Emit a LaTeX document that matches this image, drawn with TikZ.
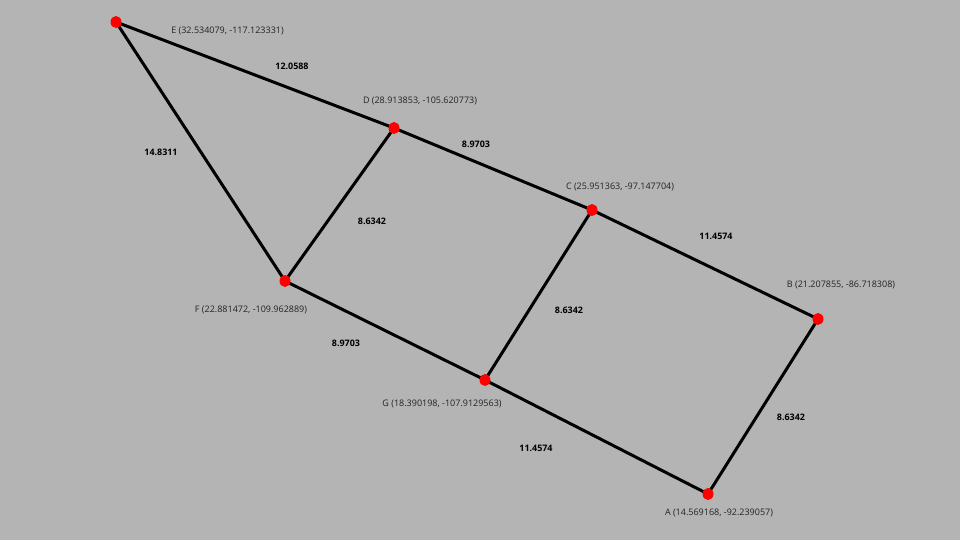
\documentclass[tikz,border=0pt]{standalone}
\usepackage{fontspec}
\setmainfont{Open Sans}
\usetikzlibrary{shapes.geometric}
\definecolor{bg}{RGB}{180,180,180}
\definecolor{txt}{RGB}{35,35,35}
\begin{document}
\begin{tikzpicture}[x=0.75pt,y=-0.75pt,
  pt/.style={ellipse,fill=red,minimum width=8.25pt,minimum height=9pt,inner sep=0pt},
  edge/.style={line width=2.25pt,black},
  coordlbl/.style={font=\fontsize{6.75pt}{8pt}\selectfont,text=txt,inner sep=0pt},
  wlbl/.style={font=\fontsize{6.7pt}{8pt}\selectfont\bfseries,text=black,inner sep=0pt}]
\fill[bg] (0,0) rectangle (960,540);
\useasboundingbox (0,0) rectangle (960,540);
\coordinate (E) at (116,22);
\coordinate (D) at (394,128);
\coordinate (C) at (592,210);
\coordinate (B) at (818,319);
\coordinate (A) at (708,494);
\coordinate (G) at (485,380);
\coordinate (F) at (285,281);
\draw[edge] (E) -- (D);
\draw[edge] (D) -- (C);
\draw[edge] (C) -- (B);
\draw[edge] (B) -- (A);
\draw[edge] (A) -- (G);
\draw[edge] (G) -- (F);
\draw[edge] (F) -- (E);
\draw[edge] (F) -- (D);
\draw[edge] (G) -- (C);
\foreach \p in {A,B,C,D,E,F,G} \node[pt] (n\p) at (\p) {};
\node[coordlbl] (lE) at (227.5,31) {E (32.534079, -117.123331)};
\node[coordlbl] (lD) at (420,101) {D (28.913853, -105.620773)};
\node[coordlbl] (lC) at (620,187) {C (25.951363, -97.147704)};
\node[coordlbl] (lB) at (841,285) {B (21.207855, -86.718308)};
\node[coordlbl] (lF) at (251,310) {F (22.881472, -109.962889)};
\node[coordlbl] (lG) at (442,404) {G (18.390198, -107.9129563)};
\node[coordlbl] (lA) at (719,513) {A (14.569168, -92.239057)};
\node[wlbl] (wED) at (292,66) {12.0588};
\node[wlbl] (wDC) at (476,144) {8.9703};
\node[wlbl] (wCB) at (716,236) {11.4574};
\node[wlbl] (wEF) at (161,152) {14.8311};
\node[wlbl] (wFD) at (372,221) {8.6342};
\node[wlbl] (wGC) at (569,310) {8.6342};
\node[wlbl] (wFG) at (346,343) {8.9703};
\node[wlbl] (wGA) at (536,448) {11.4574};
\node[wlbl] (wBA) at (791,417) {8.6342};
\end{tikzpicture}
\end{document}
